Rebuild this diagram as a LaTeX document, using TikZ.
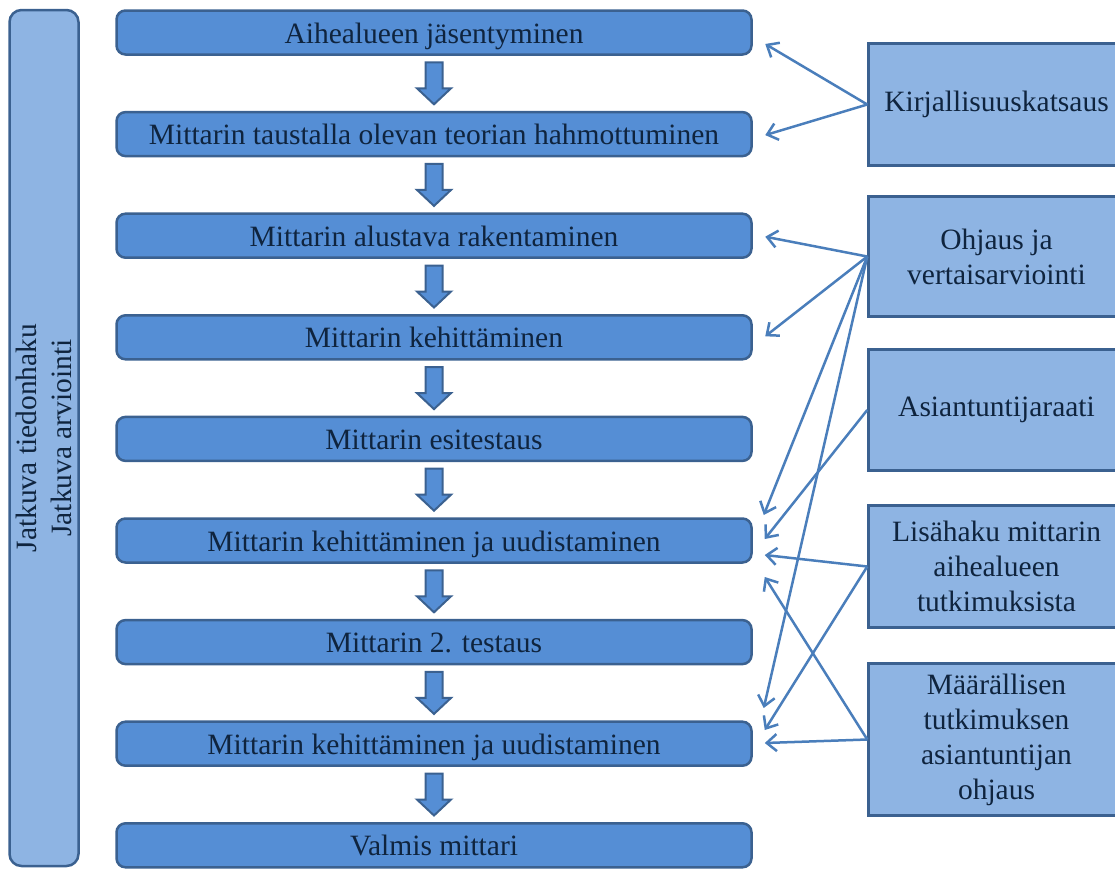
\documentclass[tikz,border=0pt]{standalone}
\usepackage{fontspec}
\setmainfont{Liberation Serif}
\usetikzlibrary{calc,arrows.meta}

\definecolor{vaihesin}{HTML}{558ED5}
\definecolor{vaalsin}{HTML}{8EB4E3}
\definecolor{reuna}{HTML}{3B6190}
\definecolor{viiva}{HTML}{4A7EBB}
\definecolor{teksti}{HTML}{0F243E}

\tikzset{
    fontti/.style={font=\fontsize{29.5}{35}\selectfont, text=teksti},
    vaihe/.style={fontti, draw=reuna, fill=vaihesin, line width=2.5pt, rounded corners=9pt,
        minimum width=635pt, minimum height=44pt, inner sep=0pt,
        text height=23pt, text depth=2pt},
    tuki/.style={fontti, draw=reuna, fill=vaalsin, line width=2.5pt, align=center,
        minimum width=256pt, inner sep=0pt},
    pylvas/.style={fontti, draw=reuna, fill=vaalsin, line width=2.5pt, rounded corners=12pt,
        align=center, rotate=90, minimum width=856pt, minimum height=69pt, inner sep=0pt},
    yhteys/.style={draw=viiva, line width=2.5pt, -{Straight Barb[length=10pt,width=17pt]}},
    nuoli/.style={draw=reuna, fill=vaihesin, line width=2pt, line join=miter}
}

% lohkonuoli kahden vaiheen valiin
\newcommand{\alasnuoli}[2]{%
    \path[nuoli] ($(#1.south)!0.5!(#2.north)$) +(-8.5,-21) -- +(8.5,-21) -- +(8.5,5)
        -- +(17,5) -- +(0,21) -- +(-17,5) -- +(-8.5,5) -- cycle;}

\begin{document}
\begin{tikzpicture}[x=1pt, y=-1pt]
    \useasboundingbox (0,0) rectangle (1115,868);
    \clip (0,0) rectangle (1115,868);

    % jatkuva tausta
    \node[pylvas] (jatkuva) at (44,438) {Jatkuva tiedonhaku\\Jatkuva arviointi};

    % vaiheet
    \node[vaihe] (v1) at (434,32.5) {Aihealueen jäsentyminen};
    \node[vaihe] (v2) at (434,134.1) {Mittarin taustalla olevan teorian hahmottuminen};
    \node[vaihe] (v3) at (434,235.7) {Mittarin alustava rakentaminen};
    \node[vaihe] (v4) at (434,337.3) {Mittarin kehittäminen};
    \node[vaihe] (v5) at (434,438.9) {Mittarin esitestaus};
    \node[vaihe] (v6) at (434,540.5) {Mittarin kehittäminen ja uudistaminen};
    \node[vaihe] (v7) at (434,642.1) {Mittarin 2. testaus};
    \node[vaihe] (v8) at (434,743.7) {Mittarin kehittäminen ja uudistaminen};
    \node[vaihe] (v9) at (434,845.3) {Valmis mittari};

    \alasnuoli{v1}{v2}
    \alasnuoli{v2}{v3}
    \alasnuoli{v3}{v4}
    \alasnuoli{v4}{v5}
    \alasnuoli{v5}{v6}
    \alasnuoli{v6}{v7}
    \alasnuoli{v7}{v8}
    \alasnuoli{v8}{v9}

    % tuki
    \node[tuki, minimum height=122pt] (kirj) at (996.5,104.5) {Kirjallisuuskatsaus};
    \node[tuki, minimum height=120pt] (ohj) at (996.5,256.5) {Ohjaus ja\\vertaisarviointi};
    \node[tuki, minimum height=121pt] (asi) at (996.5,410) {Asiantuntijaraati};
    \node[tuki, minimum height=122pt] (lisa) at (996.5,566.5) {Lisähaku mittarin\\aihealueen\\tutkimuksista};
    \node[tuki, minimum height=152pt] (maar) at (996.5,739.5) {Määrällisen\\tutkimuksen\\asiantuntijan\\ohjaus};

    % yhteydet
    \draw[yhteys] (kirj.west) -- ($(v1.east)+(12.5,11.5)$);
    \draw[yhteys] (kirj.west) -- ($(v2.east)+(12.5,1)$);
    \draw[yhteys] (ohj.west) -- ($(v3.east)+(12.5,1)$);
    \draw[yhteys] (ohj.west) -- ($(v4.east)+(12.5,-1)$);
    \draw[yhteys] (ohj.west) -- ($(v6.east)+(11,-25.5)$);
    \draw[yhteys] (ohj.west) -- ($(v8.east)+(11,-35.7)$);
    \draw[yhteys] (asi.west) -- ($(v6.east)+(12,-1.5)$);
    \draw[yhteys] (lisa.west) -- ($(v6.east)+(12,14.5)$);
    \draw[yhteys] (lisa.west) -- ($(v8.east)+(12,-13.7)$);
    \draw[yhteys] (maar.west) -- ($(v6.east)+(12,36.5)$);
    \draw[yhteys] (maar.west) -- ($(v8.east)+(12,-0.7)$);
\end{tikzpicture}
\end{document}
